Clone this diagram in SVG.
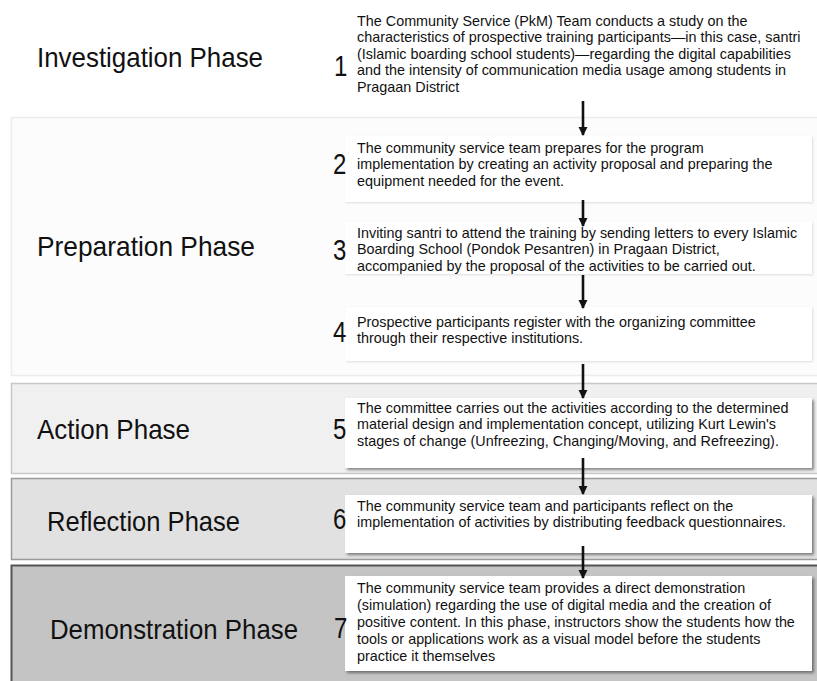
<svg xmlns="http://www.w3.org/2000/svg" width="817" height="681" viewBox="0 0 817 681">
<defs>
<marker id="ah" viewBox="0 0 10 10" refX="9" refY="5" markerWidth="3.6" markerHeight="3.6" orient="auto" markerUnits="strokeWidth">
<path d="M0,0 L10,5 L0,10 z" fill="#111"/>
</marker>
<filter id="sh" x="-5%" y="-10%" width="115%" height="130%">
<feDropShadow dx="2" dy="2" stdDeviation="1.5" flood-color="#000" flood-opacity="0.45"/>
</filter>
<filter id="shl" x="-5%" y="-10%" width="115%" height="130%">
<feDropShadow dx="1" dy="1" stdDeviation="1" flood-color="#000" flood-opacity="0.12"/>
</filter>
</defs>
<style>
.phase{font-family:"Liberation Sans",Arial,sans-serif;font-size:28px;fill:#111}
.num{font-family:"Liberation Sans",Arial,sans-serif;font-size:30px;fill:#111}
.t{font-family:"Liberation Sans",Arial,sans-serif;font-size:14.6px;fill:#111}
.box{fill:#fff}
.conn{stroke:#111;stroke-width:2.6;fill:none}
</style>
<rect width="817" height="681" fill="#fff"/>

<g id="band-preparation">
<rect x="11.5" y="117.5" width="810" height="258" fill="#fcfcfc" stroke="#ececec" stroke-width="1.5"/>
</g>
<g id="band-action">
<rect x="11.5" y="383.5" width="810" height="90" fill="#f0f0f0" stroke="#c8c8c8" stroke-width="1.5"/>
</g>
<g id="band-reflection">
<rect x="11.5" y="478.5" width="810" height="81" fill="#e1e1e1" stroke="#9a9a9a" stroke-width="1.5"/>
</g>
<g id="band-demonstration">
<rect x="11.5" y="565.5" width="810" height="130" fill="#c4c4c4" stroke="#555" stroke-width="2"/>
</g>

<g id="phase-labels">
<text class="phase" x="37" y="67" textLength="226" lengthAdjust="spacingAndGlyphs">Investigation Phase</text>
<text class="phase" x="37" y="256" textLength="218" lengthAdjust="spacingAndGlyphs">Preparation Phase</text>
<text class="phase" x="37" y="439" textLength="153" lengthAdjust="spacingAndGlyphs">Action Phase</text>
<text class="phase" x="47" y="531" textLength="193" lengthAdjust="spacingAndGlyphs">Reflection Phase</text>
<text class="phase" x="50" y="639" textLength="248" lengthAdjust="spacingAndGlyphs">Demonstration Phase</text>
</g>

<g id="step1">
<text class="num" transform="translate(334 76) scale(0.8 1)">1</text>
<g transform="translate(357 0) scale(0.985 1)">
<text class="t" x="0" y="26">The Community Service (PkM) Team conducts a study on the</text>
<text class="t" x="0" y="42.5">characteristics of prospective training participants—in this case, santri</text>
<text class="t" x="0" y="59">(Islamic boarding school students)—regarding the digital capabilities</text>
<text class="t" x="0" y="75.5">and the intensity of communication media usage among students in</text>
<text class="t" x="0" y="92">Pragaan District</text>
</g>
</g>

<g id="step2">
<rect class="box" x="345" y="136" width="467" height="66" filter="url(#shl)"/>
<text class="num" transform="translate(333 174) scale(0.8 1)">2</text>
<g transform="translate(357 0) scale(0.985 1)">
<text class="t" x="0" y="153">The community service team prepares for the program</text>
<text class="t" x="0" y="169.5">implementation by creating an activity proposal and preparing the</text>
<text class="t" x="0" y="186">equipment needed for the event.</text>
</g>
</g>

<g id="step3">
<rect class="box" x="345" y="222" width="467" height="52" filter="url(#shl)"/>
<text class="num" transform="translate(333 260) scale(0.8 1)">3</text>
<g transform="translate(357 0) scale(0.985 1)">
<text class="t" x="0" y="238">Inviting santri to attend the training by sending letters to every Islamic</text>
<text class="t" x="0" y="254.5">Boarding School (Pondok Pesantren) in Pragaan District,</text>
<text class="t" x="0" y="271">accompanied by the proposal of the activities to be carried out.</text>
</g>
</g>

<g id="step4">
<rect class="box" x="345" y="307" width="467" height="54" filter="url(#shl)"/>
<text class="num" transform="translate(333 342) scale(0.8 1)">4</text>
<g transform="translate(357 0) scale(0.985 1)">
<text class="t" x="0" y="327">Prospective participants register with the organizing committee</text>
<text class="t" x="0" y="343.5">through their respective institutions.</text>
</g>
</g>

<g id="step5">
<rect class="box" x="345" y="398" width="467" height="70" filter="url(#sh)"/>
<text class="num" transform="translate(333 439) scale(0.8 1)">5</text>
<g transform="translate(357 0) scale(0.985 1)">
<text class="t" x="0" y="413">The committee carries out the activities according to the determined</text>
<text class="t" x="0" y="429.5">material design and implementation concept, utilizing Kurt Lewin's</text>
<text class="t" x="0" y="446">stages of change (Unfreezing, Changing/Moving, and Refreezing).</text>
</g>
</g>

<g id="step6">
<rect class="box" x="345" y="495" width="467" height="58" filter="url(#sh)"/>
<text class="num" transform="translate(333 529) scale(0.8 1)">6</text>
<g transform="translate(357 0) scale(0.985 1)">
<text class="t" x="0" y="511">The community service team and participants reflect on the</text>
<text class="t" x="0" y="527.5">implementation of activities by distributing feedback questionnaires.</text>
</g>
</g>

<g id="step7">
<rect class="box" x="345" y="576" width="467" height="95" filter="url(#sh)"/>
<text class="num" transform="translate(334 638) scale(0.8 1)">7</text>
<g transform="translate(357 0) scale(0.985 1)">
<text class="t" x="0" y="593">The community service team provides a direct demonstration</text>
<text class="t" x="0" y="610">(simulation) regarding the use of digital media and the creation of</text>
<text class="t" x="0" y="627">positive content. In this phase, instructors show the students how the</text>
<text class="t" x="0" y="644">tools or applications work as a visual model before the students</text>
<text class="t" x="0" y="661">practice it themselves</text>
</g>
</g>

<g id="connectors">
<line class="conn" x1="583" y1="101" x2="583" y2="135" marker-end="url(#ah)"/>
<line class="conn" x1="583" y1="200" x2="583" y2="226" marker-end="url(#ah)"/>
<line class="conn" x1="583" y1="275" x2="583" y2="308" marker-end="url(#ah)"/>
<line class="conn" x1="583" y1="364" x2="583" y2="398" marker-end="url(#ah)"/>
<line class="conn" x1="583" y1="458" x2="583" y2="494" marker-end="url(#ah)"/>
<line class="conn" x1="583" y1="546" x2="583" y2="578" marker-end="url(#ah)"/>
</g>
</svg>
